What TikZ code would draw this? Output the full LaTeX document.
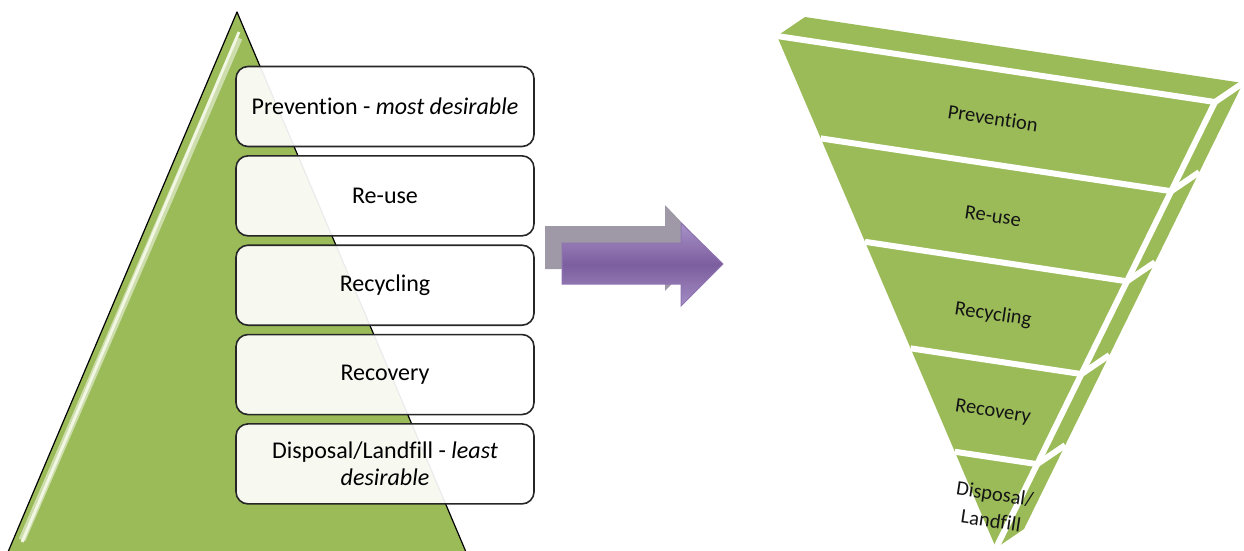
\documentclass[tikz,border=0pt]{standalone}
\usepackage{fontspec}
\setmainfont{Carlito}[Ligatures=NoCommon]
\usetikzlibrary{calc,positioning}
\definecolor{leafgreen}{HTML}{9BBB59}
\definecolor{leaflight}{HTML}{F2F7E4}
\definecolor{arrowgray}{HTML}{9F99A7}
\definecolor{arrowdark}{HTML}{7C5E9E}
\definecolor{arrowlight}{HTML}{A892C8}
\definecolor{arrowedge}{HTML}{8E73B2}

\begin{document}
\begin{tikzpicture}[x=1pt,y=-1pt,
    stepbox/.style={draw=black!85, line width=1.6pt, rounded corners=12pt,
      fill=white, fill opacity=0.92, text opacity=1,
      minimum width=298pt, minimum height=80pt, align=center,
      font=\fontsize{24}{27}\selectfont},
    tier/.style={fill=leafgreen},
    cut/.style={white, line width=6pt},
    tierlabel/.style={rotate=-8.5, align=center, text=black!92,
      font=\fontsize{20.5}{27}\selectfont}]
  \useasboundingbox (0,0) rectangle (1244,550);

  % left pyramid
  \draw[fill=leafgreen, line width=1.2pt, line join=round] (237,12) -- (466,552) -- (8,552) -- cycle;
  \draw[leafgreen!50!white, line width=7pt] (239,38) -- (22,540);
  \draw[leaflight, line width=2.8pt] (239,32) -- (22,542);

  % hierarchy boxes
  \node[stepbox] (prevention) at (385,106.5) {Prevention - \textit{most desirable}};
  \node[stepbox, below=7.75pt of prevention] (reuse) {Re-use};
  \node[stepbox, below=7.75pt of reuse] (recycling) {Recycling};
  \node[stepbox, below=7.75pt of recycling] (recovery) {Recovery};
  \node[stepbox, below=7.75pt of recovery] (disposal) {Disposal/Landfill - \textit{least}\\\textit{desirable}};

  % arrow
  \fill[arrowgray] (545,226) -- (665,226) -- (665,205) -- (706,248) -- (665,291) -- (665,269) -- (545,269) -- cycle;
  \draw[arrowedge, line width=1pt, line join=miter, top color=arrowlight, bottom color=arrowlight!90!arrowdark,
    middle color=arrowdark] (562,243) -- (681,243) -- (681,223) -- (723,264) -- (681,306) -- (681,284) -- (562,284) -- cycle;

  % inverted pyramid
  \coordinate (TL) at (777,36);
  \coordinate (TR) at (1215,102);
  \coordinate (A) at (996,548);
  \fill[tier] (TL) -- (TR) -- ($(TR)+(28,-19)$) -- ($(TL)+(28,-19)$) -- cycle;
  \fill[tier] (TR) -- (A) -- ($(A)+(28,-19)$) -- ($(TR)+(28,-19)$) -- cycle;
  \fill[tier] (TL) -- (TR) -- (A) -- cycle;
  \draw[cut] (TL) -- (TR) -- ++(28,-19);
  \draw[cut] (TR) -- (A);
  \foreach \t in {0.2,0.402,0.61,0.812}
    \draw[cut] ($(TL)!\t!(A)$) -- ($(TR)!\t!(A)$) -- ++(28,-19);

  \node[tierlabel] (tprevention) at (993,118) {Prevention};
  \node[tierlabel] (treuse) at (993,216) {Re-use};
  \node[tierlabel] (trecycling) at (993,315) {Recycling};
  \node[tierlabel] (trecovery) at (993,412) {Recovery};
  \node[tierlabel] (tdisposal) at (993,507) {Disposal/\\Landfill};
\end{tikzpicture}
\end{document}
